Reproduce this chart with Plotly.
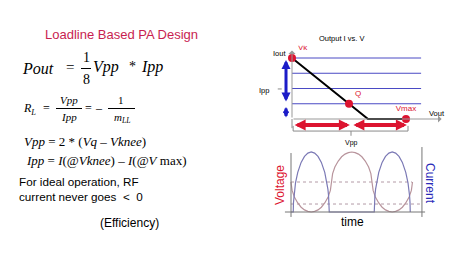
import plotly.graph_objects as go

W, H = 474, 266

# ---------------- data ----------------
# Load-line chart (normalised units: V along x, I along y)
grid_current = [1, 2, 3, 4]
grid_v_end = 4.53
loadline_v = [0.0, 2.667, 4.0]
loadline_i = [4.0, 0.0, 0.0]
point_v = [0.0, 2.0, 4.0]
point_i = [4.0, 1.0, 0.0]
point_labels = ["Vk", "Q", "Vmax"]

# Waveforms (time in degrees, amplitude normalised)
volt_t = [0, 5, 15, 30, 45, 60, 75, 90, 105, 120, 135, 150, 165, 175, 180,
          185, 195, 210, 225, 240, 255, 270, 285, 300, 315, 330, 345, 355, 360,
          365, 375, 390, 405, 420, 435, 450, 465, 480, 495, 510, 525, 535, 540]
volt_v = [0.5, 0.36, 0.25, 0.15, 0.08, 0.035, 0.01, 0.0, 0.01, 0.035, 0.08, 0.15, 0.25, 0.36, 0.5,
          0.64, 0.75, 0.85, 0.92, 0.965, 0.99, 1.0, 0.99, 0.965, 0.92, 0.85, 0.75, 0.64, 0.5,
          0.36, 0.25, 0.15, 0.08, 0.035, 0.01, 0.0, 0.01, 0.035, 0.08, 0.15, 0.25, 0.36, 0.5]
curr_t = [0, 10, 11, 13, 16, 20, 30, 45, 60, 75, 90, 105, 120, 135, 150, 160, 164, 167, 169, 170,
          370, 371, 373, 376, 380, 390, 405, 420, 435, 450, 465, 480, 495, 510, 520, 524, 527, 529, 530]
curr_i = [0, 0, 0.157, 0.271, 0.38, 0.484, 0.661, 0.827, 0.927, 0.982, 1.0, 0.982, 0.927, 0.827, 0.661, 0.484, 0.38, 0.271, 0.157, 0,
          0, 0.157, 0.271, 0.38, 0.484, 0.661, 0.827, 0.927, 0.982, 1.0, 0.982, 0.927, 0.827, 0.661, 0.484, 0.38, 0.271, 0.157, 0]
dash_levels = [0.5, 0.133]
dash_ends = [538, 573]

# ---------------- helpers ----------------
def fx(px):
    return px / W

def fy(py):
    return 1 - py / H

SANS = "Liberation Sans, Arial, sans-serif"
SERIF = "Liberation Serif, Times New Roman, serif"
RED = "#dc1430"
BLUE = "#1c1cc8"
GRIDBLUE = "#4a4ac4"

fig = go.Figure()

# ---------- load-line chart on x/y ----------
gx, gy = [], []
for c in grid_current:
    gx += [0, grid_v_end, None]
    gy += [c, c, None]
fig.add_trace(go.Scatter(x=gx, y=gy, mode="lines", line=dict(color=GRIDBLUE, width=1),
                         xaxis="x", yaxis="y", hoverinfo="skip"))
fig.add_trace(go.Scatter(x=loadline_v, y=loadline_i, mode="lines",
                         line=dict(color="black", width=2), xaxis="x", yaxis="y"))
fig.add_trace(go.Scatter(x=point_v, y=point_i, mode="markers+text", text=point_labels,
                         textposition=["top right", "top right", "top center"],
                         textfont=dict(color=RED, size=8, family=SANS),
                         marker=dict(color=RED, size=8), xaxis="x", yaxis="y"))

# ---------- waveforms on x2/y2 ----------
for lvl, end in zip(dash_levels, dash_ends):
    fig.add_trace(go.Scatter(x=[0, end], y=[lvl, lvl], mode="lines",
                             line=dict(color="#b39aa6", width=1, dash="dot"),
                             xaxis="x2", yaxis="y2"))
fig.add_trace(go.Scatter(x=volt_t, y=volt_v, mode="lines", line=dict(color="#b8949c", width=1.2),
                         xaxis="x2", yaxis="y2"))
fig.add_trace(go.Scatter(x=curr_t, y=curr_i, mode="lines", line=dict(color="#7b79b5", width=1.2),
                         xaxis="x2", yaxis="y2"))

# axis geometry (pixels)
PXV, X0 = 28.5, 292
PYI, Y0 = 15.25, 119
xr = [-1.2, 5.4]
yr = [-1.8, 4.8]
PXT, T0 = 0.225, 291
PYA, A0 = 60, 212
tr = [-50, 620]
ar = [-0.25, 1.25]

noax = dict(visible=False, fixedrange=True)
fig.update_layout(
    width=W, height=H, autosize=False,
    margin=dict(l=0, r=0, t=0, b=0),
    paper_bgcolor="white", plot_bgcolor="white",
    showlegend=False,
    xaxis=dict(noax, range=xr, domain=[fx(X0 + xr[0] * PXV), fx(X0 + xr[1] * PXV)]),
    yaxis=dict(noax, range=yr, domain=[fy(Y0 - yr[0] * PYI), fy(Y0 - yr[1] * PYI)]),
    xaxis2=dict(noax, range=tr, domain=[fx(T0 + tr[0] * PXT), fx(T0 + tr[1] * PXT)]),
    yaxis2=dict(noax, range=ar, domain=[fy(A0 - ar[0] * PYA), fy(A0 - ar[1] * PYA)]),
)

shapes = []
ann = []

# waveform frame
for (x0, y0, x1, y1) in [(0, -0.083, 0, 0.983), (582, -0.083, 582, 1.083), (-27, 0, 596, 0)]:
    shapes.append(dict(type="line", xref="x2", yref="y2", x0=x0, y0=y0, x1=x1, y1=y1,
                       line=dict(color="#777777", width=1)))

# load-line axes arrows
def arrow(x, y, ax, ay, color, width, head=2, size=1.0, side="end", ref=("x", "y")):
    ann.append(dict(x=x, y=y, ax=ax, ay=ay, xref=ref[0], yref=ref[1], axref=ref[0], ayref=ref[1],
                    text="", showarrow=True, arrowhead=head, startarrowhead=head,
                    arrowsize=size, startarrowsize=size, arrowwidth=width,
                    arrowcolor=color, arrowside=side, standoff=0, startstandoff=0))

arrow(0, 4.5, 0, 0, "#999999", 1, head=1, size=1.2)
arrow(5.25, 0, 0, 0, "#999999", 1, head=1, size=1.2)
# Ipp arrows
arrow(-0.21, 3.87, -0.21, 1.05, BLUE, 3, head=2, size=0.6, side="end+start")
arrow(-0.21, 0.79, -0.21, 0.0, BLUE, 3, head=2, size=0.4, side="end+start")
# Vpp arrows
arrow(2.03, -0.39, 0.04, -0.39, RED, 4, head=2, size=0.55, side="end+start")
arrow(4.03, -0.39, 2.1, -0.39, RED, 4, head=2, size=0.55, side="end+start")
# Vpp bracket
for (x0, y0, x1, y1) in [(0.04, -0.79, 4.07, -0.79), (0.04, -0.79, 0.04, -0.45),
                         (4.07, -0.79, 4.07, -0.45), (2.07, -0.79, 2.07, -1.1),
                         (0, 0, 0, -0.6)]:
    shapes.append(dict(type="line", xref="x", yref="y", x0=x0, y0=y0, x1=x1, y1=y1,
                       line=dict(color="#8a8a8a", width=1)))
# Ipp small tick
shapes.append(dict(type="line", xref="x", yref="y", x0=-0.5, y0=1.97, x1=-0.36, y1=1.97,
                   line=dict(color="#8a8a8a", width=1)))

def txt(s, px, py, size, color="black", family=SANS, xanchor="center", angle=0):
    ann.append(dict(text=s, x=fx(px), y=fy(py), xref="paper", yref="paper", showarrow=False,
                    xanchor=xanchor, yanchor="middle", textangle=angle,
                    font=dict(size=size, color=color, family=family)))

# chart labels
txt("Output I vs. V", 341, 39, 7.5)
txt("Iout", 279, 53, 7.5)
txt("Ipp", 264, 91, 7.5)
txt("Vout", 437, 113, 7.5)
txt("Vpp", 351, 143, 7)
txt("Voltage", 280, 185, 12, color=RED, angle=-90)
txt("Current", 430, 183, 12, color="#2a2ab8", angle=90)
txt("time", 352, 222, 12)

# left side slide text
txt("Loadline Based PA Design", 121, 35, 13, color="#c81e50")
txt("<i>Pout</i>", 38, 68, 16, family=SERIF)
txt("=", 70, 67, 15, family=SERIF)
txt("1", 86, 57, 14, family=SERIF)
txt("8", 86, 79, 14, family=SERIF)
txt("<i>Vpp</i>", 106, 67, 16, family=SERIF)
txt("*", 132, 66, 14, family=SERIF)
txt("<i>Ipp</i>", 152, 67, 16, family=SERIF)
shapes.append(dict(type="line", xref="paper", yref="paper", x0=fx(81), x1=fx(91), y0=fy(68.5), y1=fy(68.5),
                   line=dict(color="black", width=1)))

txt("<i>R</i><sub><i>L</i></sub>", 29, 109, 12, family=SERIF)
txt("=", 46, 108, 12, family=SERIF)
txt("<i>Vpp</i>", 69, 100, 11, family=SERIF)
txt("<i>Ipp</i>", 69, 117, 11, family=SERIF)
txt("=", 88, 108, 12, family=SERIF)
txt("–", 99, 108, 12, family=SERIF)
txt("1", 121, 100, 11, family=SERIF)
txt("<i>m</i><sub><i>LL</i></sub>", 122, 118, 11, family=SERIF)
for (a, b) in [(56, 82), (108, 135)]:
    shapes.append(dict(type="line", xref="paper", yref="paper", x0=fx(a), x1=fx(b), y0=fy(108.5), y1=fy(108.5),
                       line=dict(color="black", width=1)))

txt("<i>Vpp</i> = 2 * (<i>Vq</i> – <i>Vknee</i>)", 22, 141, 13, family=SERIF, xanchor="left")
txt("<i>Ipp</i> = <i>I</i>(@<i>Vknee</i>) – <i>I</i>(@<i>V</i> max)", 24, 160, 13, family=SERIF, xanchor="left")
txt("For ideal operation, RF", 17, 181, 11.7, xanchor="left")
txt("current never goes  <  0", 17, 196, 11.7, xanchor="left")
txt("(Efficiency)", 129, 223, 12)

fig.update_layout(shapes=shapes, annotations=ann)
fig.write_html("out.html")
